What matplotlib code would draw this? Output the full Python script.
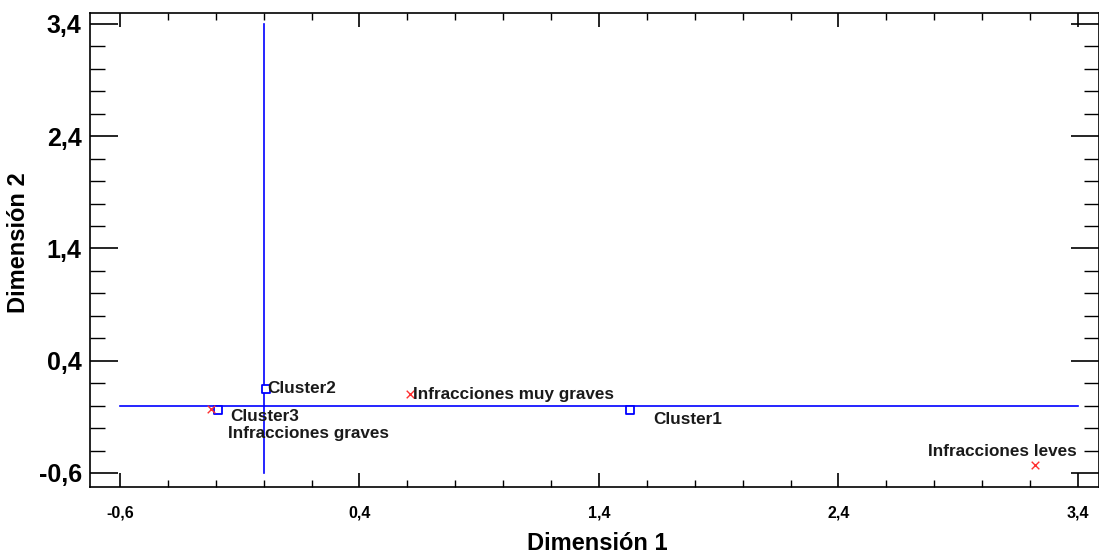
import numpy as np
import matplotlib.pyplot as plt
from matplotlib.ticker import MultipleLocator, FuncFormatter

plt.rcParams['font.family'] = ['Liberation Sans', 'DejaVu Sans']

# Cluster centroids (blue squares)
cluster_names = ['Cluster1', 'Cluster2', 'Cluster3']
cluster_x = [1.53, 0.01, -0.19]
cluster_y = [-0.04, 0.15, -0.04]

# Variables (red crosses)
var_names = ['Infracciones graves', 'Infracciones muy graves', 'Infracciones leves']
var_x = [-0.22, 0.61, 3.22]
var_y = [-0.03, 0.10, -0.53]

fig = plt.figure(figsize=(10.99, 5.54), dpi=100)
ax = fig.add_axes([90 / 1099, 1 - 487 / 554, 1009 / 1099, 474 / 554])

# reference axes through the origin
ax.plot([-0.6, 3.4], [0, 0], color='#0000FF', lw=1.2, zorder=1)
ax.plot([0, 0], [-0.6, 3.4], color='#0000FF', lw=1.2, zorder=1)

ax.scatter(cluster_x, cluster_y, marker='s', s=28, facecolors='white',
           edgecolors='#0000FF', linewidths=1.3, zorder=3)
ax.scatter(var_x, var_y, marker='x', s=30, color='#FF3030', linewidths=1.0, zorder=3)

lbl = dict(fontsize=12.3, fontweight='bold', color='#1a1a1a')
ax.text(0.015, 0.15, 'Cluster2', va='center', ha='left', **lbl)
ax.text(0.625, 0.10, 'Infracciones muy graves', va='center', ha='left', **lbl)
ax.text(-0.14, -0.10, 'Cluster3', va='center', ha='left', **lbl)
ax.text(-0.15, -0.25, 'Infracciones graves', va='center', ha='left', **lbl)
ax.text(1.625, -0.12, 'Cluster1', va='center', ha='left', **lbl)
ax.text(3.085, -0.41, 'Infracciones leves', va='center', ha='center', **lbl)

ax.set_xlim(-0.725, 3.488)
ax.set_ylim(-0.725, 3.498)

comma = FuncFormatter(lambda v, p: f'{v:.1f}'.replace('.', ','))
ax.xaxis.set_major_locator(MultipleLocator(1.0, offset=0.4))
ax.yaxis.set_major_locator(MultipleLocator(1.0, offset=0.4))
ax.xaxis.set_minor_locator(MultipleLocator(0.2))
ax.yaxis.set_minor_locator(MultipleLocator(0.2))
ax.xaxis.set_major_formatter(comma)
ax.yaxis.set_major_formatter(comma)

ax.tick_params(axis='x', which='major', direction='in', length=10, width=1.2,
               top=True, bottom=True, labelsize=11.5, pad=13)
ax.tick_params(axis='x', which='minor', direction='in', length=5, width=1,
               top=True, bottom=True)
ax.tick_params(axis='y', which='major', direction='in', length=20, width=1.2,
               left=True, right=True, labelsize=18, pad=6)
ax.tick_params(axis='y', which='minor', direction='in', length=11, width=1,
               left=True, right=True)
for t in ax.get_xticklabels() + ax.get_yticklabels():
    t.set_fontweight('bold')

for s in ax.spines.values():
    s.set_linewidth(1.2)

ax.set_xlabel('Dimensión 1', fontsize=17, fontweight='bold')
ax.set_ylabel('Dimensión 2', fontsize=17, fontweight='bold')
ax.xaxis.set_label_coords(0.503, -0.094)
ax.yaxis.set_label_coords(-0.059, 0.515)

fig.savefig('out.png', dpi=100)
